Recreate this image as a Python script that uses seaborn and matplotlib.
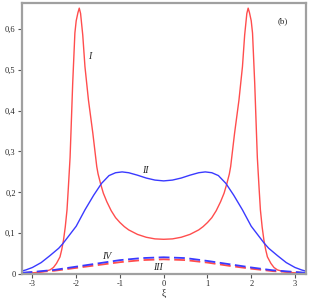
import numpy as np
import seaborn as sns
import matplotlib.pyplot as plt
import pandas as pd

# Curve I (red, solid) - sharp peaks near xi = +-1.93
x_I = [-3.25, -3.0, -2.85, -2.7, -2.6, -2.52, -2.45, -2.37, -2.33, -2.29, -2.25, -2.21,
       -2.18, -2.14, -2.12, -2.08, -2.03, -2.0, -1.96, -1.93, -1.9, -1.85, -1.8, -1.72,
       -1.62, -1.53, -1.5, -1.44, -1.38, -1.3, -1.2, -1.1, -1.0, -0.9, -0.8, -0.6,
       -0.4, -0.2, 0.0, 0.2, 0.4, 0.6, 0.8, 0.9, 1.0, 1.1, 1.2, 1.3, 1.38, 1.44, 1.5,
       1.53, 1.62, 1.72, 1.8, 1.85, 1.9, 1.93, 1.96, 2.0, 2.03, 2.08, 2.12, 2.14,
       2.18, 2.21, 2.25, 2.29, 2.33, 2.37, 2.45, 2.52, 2.6, 2.7, 2.85, 3.0, 3.25]
y_I = [0.001, 0.003, 0.004, 0.007, 0.010, 0.016, 0.026, 0.042, 0.060, 0.083, 0.115, 0.157,
       0.210, 0.285, 0.345, 0.467, 0.590, 0.620, 0.640, 0.651, 0.638, 0.585, 0.508, 0.426,
       0.345, 0.263, 0.245, 0.220, 0.198, 0.177, 0.155, 0.138, 0.126, 0.116, 0.108, 0.097,
       0.090, 0.086, 0.085, 0.086, 0.090, 0.097, 0.108, 0.116, 0.126, 0.138, 0.155, 0.177, 0.198, 0.220, 0.245,
       0.263, 0.345, 0.426, 0.508, 0.585, 0.638, 0.651, 0.640, 0.620, 0.590, 0.467, 0.345, 0.285,
       0.210, 0.157, 0.115, 0.083, 0.060, 0.042, 0.026, 0.016, 0.010, 0.007, 0.004, 0.003, 0.001]

# Curve II (blue, solid) - two broad humps
x_II = [-3.25, -3.15, -3.0, -2.8, -2.6, -2.4, -2.3, -2.2, -2.0, -1.8, -1.6, -1.42,
        -1.25, -1.1, -0.95, -0.8, -0.6, -0.4, -0.2, 0.0, 0.2, 0.4, 0.6, 0.8, 0.95,
        1.1, 1.25, 1.42, 1.6, 1.8, 2.0, 2.2, 2.3, 2.4, 2.6, 2.8, 3.0, 3.15, 3.25]
y_II = [0.007, 0.010, 0.016, 0.028, 0.045, 0.063, 0.075, 0.089, 0.117, 0.157, 0.193, 0.222,
        0.241, 0.248, 0.250, 0.248, 0.242, 0.235, 0.230, 0.228, 0.230, 0.235, 0.242, 0.248, 0.250,
        0.248, 0.241, 0.222, 0.193, 0.157, 0.117, 0.089, 0.075, 0.063, 0.045, 0.028, 0.016, 0.010, 0.007]

# Curves III (red, dashed) and IV (blue, dashed)
x_low = [-3.25, -3.0, -2.5, -2.0, -1.5, -1.0, -0.5, 0.0, 0.5, 1.0, 1.5, 2.0, 2.5, 3.0, 3.25]
y_III = [0.002, 0.004, 0.008, 0.015, 0.022, 0.029, 0.034, 0.036, 0.034, 0.028, 0.020, 0.013, 0.007, 0.004, 0.002]
y_IV = [0.003, 0.005, 0.010, 0.018, 0.026, 0.034, 0.039, 0.041, 0.039, 0.032, 0.024, 0.016, 0.009, 0.005, 0.003]

x_ticks = [-3, -2, -1, 0, 1, 2, 3]
x_ticklabels = ['-3', '-2', '-1', '0', '1', '2', '3']
y_ticks = [0, 0.1, 0.2, 0.3, 0.4, 0.5, 0.6]
y_ticklabels = ['0', '0,1', '0,2', '0,3', '0,4', '0,5', '0,6']

sns.set_style('white')
plt.rcParams['font.family'] = ['Liberation Serif', 'DejaVu Serif']

fig = plt.figure(figsize=(3.09, 2.98), dpi=100)
ax = fig.add_axes([0.071, 0.0805, 0.919, 0.91])

red = '#ff4d4d'
blue = '#3a3aff'
sns.lineplot(x=x_I, y=y_I, ax=ax, color=red, linewidth=1.0, sort=False)
sns.lineplot(x=x_II, y=y_II, ax=ax, color=blue, linewidth=1.0, sort=False)
sns.lineplot(x=x_low, y=y_III, ax=ax, color=red, linewidth=1.3, sort=False)
sns.lineplot(x=x_low, y=y_IV, ax=ax, color=blue, linewidth=1.3, sort=False)
ax.lines[2].set_dashes([6, 2.5])
ax.lines[3].set_dashes([6, 2.5])

ax.set_xlim(-3.24, 3.25)
ax.set_ylim(0, 0.664)
ax.set_xticks(x_ticks)
ax.set_xticklabels(x_ticklabels)
ax.set_yticks(y_ticks)
ax.set_yticklabels(y_ticklabels)
ax.tick_params(direction='out', length=3, width=0.8, color='#555555', labelsize=6, pad=1.5)
ax.tick_params(axis='both', which='both', bottom=True, left=True)
for s in ax.spines.values():
    s.set_color('#a0a0a0')
    s.set_linewidth(1.6)

ax.set_xlabel('ξ', fontsize=7, labelpad=0)
ax.set_ylabel('')

ax.text(-1.70, 0.532, 'I', fontsize=7, style='italic', ha='center', va='center')
ax.text(-0.41, 0.253, 'II', fontsize=7, style='italic', ha='center', va='center')
ax.text(-1.30, 0.043, 'IV', fontsize=7, style='italic', ha='center', va='center')
ax.text(-0.14, 0.017, 'III', fontsize=7, style='italic', ha='center', va='center')
ax.text(2.73, 0.620, '(b)', fontsize=6.5, ha='center', va='center')

plt.savefig('out.png', dpi=100)
